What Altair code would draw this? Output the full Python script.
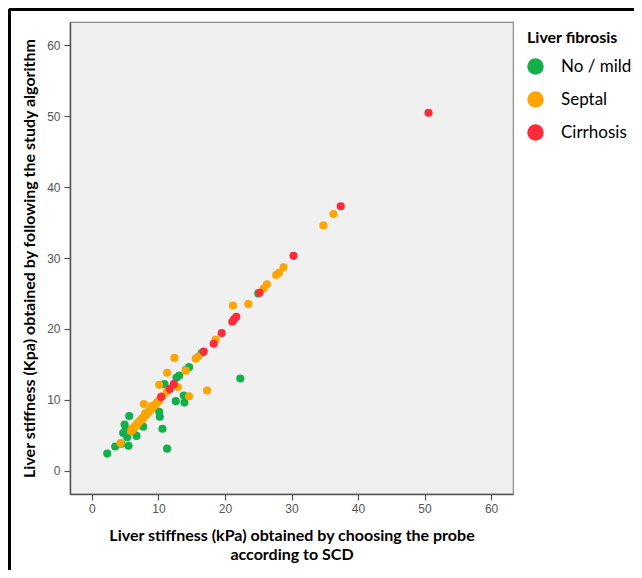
import altair as alt
import pandas as pd

# ---- data ----
green_x = [2.3, 3.5, 4.4, 5.5, 4.7, 5.1, 4.9, 5.6, 6.7, 7.7, 5.3, 6.2, 10.1, 10.2, 10.6, 11.3,
           12.6, 13.9, 13.8, 10.9, 12.7, 13.1, 14.1, 14.6, 22.3, 25.0, 16.5]
green_y = [2.4, 3.4, 3.8, 3.5, 5.3, 5.9, 6.5, 7.7, 4.9, 6.2, 4.7, 5.6, 8.3, 7.6, 5.9, 3.1,
           9.8, 9.6, 10.6, 12.2, 13.1, 13.4, 14.2, 14.6, 13.0, 25.0, 16.6]

orange_x = [4.3, 5.9, 6.0, 6.1, 6.2, 6.4, 6.5, 6.7, 6.8, 7.0, 7.1, 7.3, 7.4, 7.6, 7.7, 7.9,
            8.0, 8.0, 8.2, 8.3, 8.5, 8.6, 8.8, 8.9, 9.0, 9.2, 9.4, 9.5, 9.7, 9.8, 10.0,
            10.1, 10.6, 11.3, 7.8, 10.1, 11.3, 12.4, 12.9, 14.1, 14.6, 17.3,
            15.6, 16.0, 18.6, 21.2, 23.5, 25.8, 26.3, 27.7, 28.1, 28.8, 34.8, 36.3]
orange_y = [3.9, 5.6, 5.9, 5.7, 5.9, 6.2, 6.2, 6.5, 6.5, 6.8, 6.9, 7.1, 7.1, 7.4, 7.4, 7.7,
            7.8, 8.1, 7.9, 8.1, 8.3, 8.4, 8.6, 8.7, 9.1, 9.0, 9.2, 9.3, 9.5, 9.6, 9.8,
            9.9, 10.5, 11.2, 9.4, 12.1, 13.8, 15.9, 11.8, 14.1, 10.5, 11.3,
            15.8, 16.1, 18.5, 23.3, 23.5, 25.7, 26.3, 27.6, 27.9, 28.7, 34.6, 36.2]

red_x = [10.4, 11.7, 12.3, 16.8, 18.3, 19.5, 21.1, 21.4, 21.7, 25.2, 30.3, 37.4, 50.6]
red_y = [10.4, 11.5, 12.2, 16.8, 17.9, 19.4, 21.0, 21.4, 21.7, 25.1, 30.3, 37.3, 50.5]

categories = ["No / mild", "Septal", "Cirrhosis"]
colors = ["#12B04A", "#FFA400", "#FF2B3B"]
ticks = [0, 10, 20, 30, 40, 50, 60]

rows = []
for cat, xs, ys in zip(categories, [green_x, orange_x, red_x], [green_y, orange_y, red_y]):
    for a, b in zip(xs, ys):
        rows.append({"scd": a, "algo": b, "Liver fibrosis": cat, "ord": categories.index(cat)})
df = pd.DataFrame(rows)

FONT_T = "Lato"
FONT_L = "Liberation Sans"
dom = [-3.3, 63.3]

points = alt.Chart(df).mark_circle(size=66, opacity=1).encode(
    x=alt.X("scd:Q", scale=alt.Scale(domain=dom, nice=False, zero=False),
            axis=alt.Axis(values=ticks, grid=False, tickSize=6, labelPadding=3,
                          title=["Liver stiffness (kPa) obtained by choosing the probe",
                                 "according to SCD"],
                          titlePadding=13, titleLineHeight=19)),
    y=alt.Y("algo:Q", scale=alt.Scale(domain=dom, nice=False, zero=False),
            axis=alt.Axis(values=ticks, grid=False, tickSize=6, labelPadding=4,
                          title="Liver stiffness (Kpa) obtained by following the study algorithm",
                          titlePadding=9)),
    color=alt.Color("Liver fibrosis:N",
                    scale=alt.Scale(domain=categories, range=colors),
                    legend=alt.Legend(orient="none", legendX=457, legendY=8,
                                      symbolSize=270, symbolType="circle",
                                      symbolStrokeWidth=0, symbolOpacity=1,
                                      rowPadding=15, labelOffset=17,
                                      titlePadding=12)),
    order=alt.Order("ord:Q"),
)

frame_left = alt.Chart(df).mark_rule(color="black", strokeWidth=2.5).encode(
    x=alt.value(-60.5), y=alt.value(-12.5), y2=alt.value(560))
frame_top = alt.Chart(df).mark_rule(color="black", strokeWidth=2.5).encode(
    x=alt.value(-60.5), x2=alt.value(570), y=alt.value(-12.5))

chart = alt.layer(points, frame_left, frame_top).properties(
    width=443, height=472,
    autosize=alt.AutoSizeParams(type="none"),
    padding={"left": 62, "top": 14, "right": 121, "bottom": 76},
).configure_view(
    fill="#F0F0F0", stroke="#8A8A8A", strokeWidth=1.2
).configure_axis(
    domainColor="#555555", domainWidth=1.5, tickColor="#555555", tickWidth=1.2,
    labelFont=FONT_L, labelFontSize=12, labelColor="#555555",
    titleFont=FONT_T, titleFontSize=16, titleFontWeight="bold", titleColor="black",
).configure_legend(
    titleFont=FONT_T, titleFontSize=16, titleFontWeight="bold", titleColor="black",
    labelFont=FONT_T, labelFontSize=17, labelColor="black",
)

chart.save("out.html", embed_options={"renderer": "svg", "actions": False})
